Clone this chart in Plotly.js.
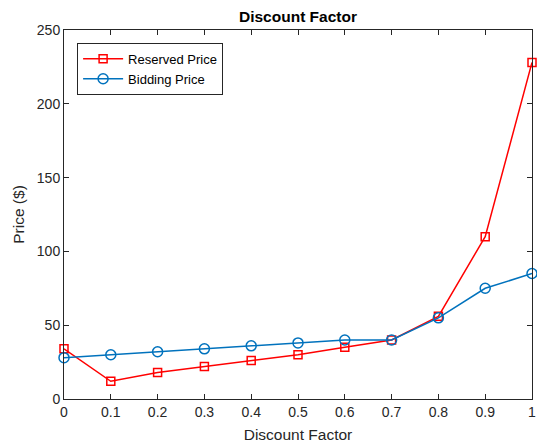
<!DOCTYPE html>
<html>
<head>
<meta charset="utf-8">
<script src="https://cdn.plot.ly/plotly-3.0.1.min.js"></script>
<style>html,body{margin:0;padding:0;background:#fff;}#chart{width:537px;height:444px;}</style>
</head>
<body>
<div id="chart"></div>
<script>
const discountFactor = [0, 0.1, 0.2, 0.3, 0.4, 0.5, 0.6, 0.7, 0.8, 0.9, 1];
const reservedPrice = [34, 12, 18, 22, 26, 30, 35, 40, 56, 110, 228];
const biddingPrice = [28, 30, 32, 34, 36, 38, 40, 40, 55, 75, 85];
const xTicks = [0, 0.1, 0.2, 0.3, 0.4, 0.5, 0.6, 0.7, 0.8, 0.9, 1];
const xTickLabels = ['0', '0.1', '0.2', '0.3', '0.4', '0.5', '0.6', '0.7', '0.8', '0.9', '1'];
const yTicks = [0, 50, 100, 150, 200, 250];

const font = 'Liberation Sans, Arial, Helvetica, sans-serif';
const axisColor = '#262626';

const traces = [
  {
    x: discountFactor, y: reservedPrice, name: 'Reserved Price',
    type: 'scatter', mode: 'lines+markers', cliponaxis: false,
    line: {color: '#FF0000', width: 1.5},
    marker: {symbol: 'square-open', size: 8, color: '#FF0000', line: {width: 1.5, color: '#FF0000'}}
  },
  {
    x: discountFactor, y: biddingPrice, name: 'Bidding Price',
    type: 'scatter', mode: 'lines+markers', cliponaxis: false,
    line: {color: '#0072BD', width: 1.5},
    marker: {symbol: 'circle-open', size: 10, color: '#0072BD', line: {width: 1.5, color: '#0072BD'}}
  }
];

const layout = {
  width: 537, height: 444,
  margin: {l: 64, r: 5, t: 30, b: 45, pad: 0},
  paper_bgcolor: '#ffffff', plot_bgcolor: '#ffffff',
  font: {family: font, size: 14, color: axisColor},
  title: {text: '<b>Discount Factor</b>', font: {family: font, size: 15.5, color: '#000000'},
          x: 0.5, xanchor: 'center', xref: 'paper', y: 1 - 17/444, yanchor: 'middle', yref: 'container'},
  xaxis: {
    range: [0, 1], tickmode: 'array', tickvals: xTicks, ticktext: xTickLabels,
    ticks: 'inside', ticklen: 5, tickcolor: axisColor, tickwidth: 1,
    showline: true, linecolor: axisColor, linewidth: 1, mirror: 'ticks',
    showgrid: false, zeroline: false,
    tickfont: {family: font, size: 14, color: axisColor},
    title: {text: 'Discount Factor', font: {family: font, size: 15.5, color: axisColor}, standoff: 10}
  },
  yaxis: {
    range: [0, 250], tickmode: 'array', tickvals: yTicks,
    ticks: 'inside', ticklen: 5, tickcolor: axisColor, tickwidth: 1,
    showline: true, linecolor: axisColor, linewidth: 1, mirror: 'ticks',
    showgrid: false, zeroline: false,
    tickfont: {family: font, size: 14, color: axisColor},
    title: {text: 'Price ($)', font: {family: font, size: 15.5, color: axisColor}, standoff: 8}
  },
  showlegend: true,
  legend: {
    x: 0.028, y: 0.965, xanchor: 'left', yanchor: 'top',
    bgcolor: '#ffffff', bordercolor: axisColor, borderwidth: 1,
    font: {family: font, size: 13, color: '#000000'},
    tracegroupgap: 0, itemwidth: 40
  }
};

Plotly.newPlot('chart', traces, layout, {displayModeBar: false, staticPlot: true});
</script>
</body>
</html>
